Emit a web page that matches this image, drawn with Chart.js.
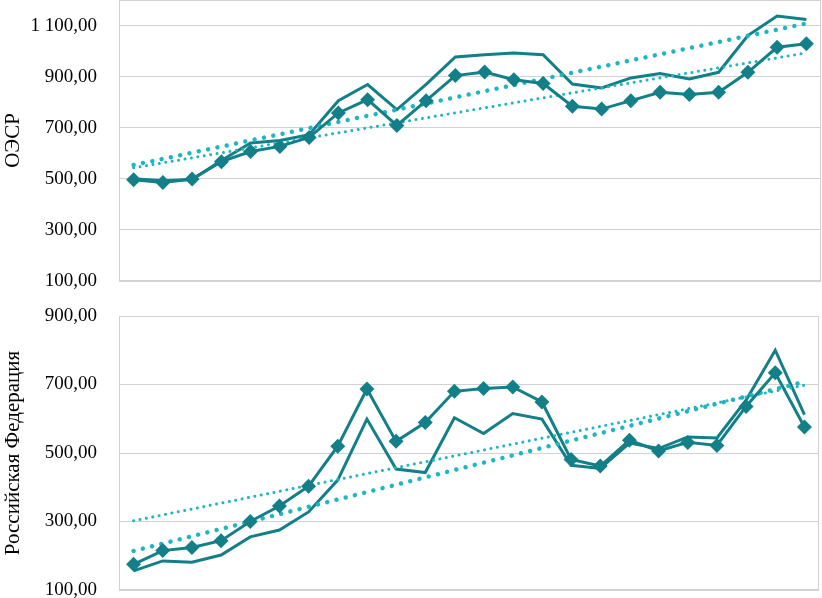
<!DOCTYPE html>
<html>
<head>
<meta charset="utf-8">
<script src="https://cdn.jsdelivr.net/npm/chart.js@4"></script>
<style>
  html, body { margin: 0; padding: 0; background: #ffffff; }
  body { width: 822px; height: 598px; position: relative; overflow: hidden; }
  canvas { position: absolute; left: 0; }
  #topChart { top: 0; }
  #bottomChart { top: 300px; }
</style>
</head>
<body>
<canvas id="topChart" width="822" height="300"></canvas>
<canvas id="bottomChart" width="822" height="298"></canvas>
<script>
const periods = ['1', '2', '3', '4', '5', '6', '7', '8', '9', '10', '11', '12',
                 '13', '14', '15', '16', '17', '18', '19', '20', '21', '22', '23', '24'];

// ОЭСР
const oecdMarked = [496, 486, 499, 567, 607, 627, 662, 758, 810, 709, 806, 904,
                    918, 888, 873, 784, 773, 806, 839, 830, 839, 917, 1015, 1029];
const oecdLine = [500, 492, 497, 572, 640, 650, 673, 806, 869, 771, 870, 977,
                  986, 993, 986, 871, 856, 895, 912, 891, 917, 1061, 1137, 1124];
const oecdTrendThick = [554, 1108];   // first / last period
const oecdTrendThin = [543, 993];
const oecdTicks = [100, 300, 500, 700, 900, 1100];

// Российская Федерация
const rfMarked = [175, 215, 224, 244, 300, 345, 403, 520, 687, 534, 589, 680,
                  688, 693, 649, 481, 462, 537, 506, 531, 522, 636, 734, 576];
const rfLine = [156, 185, 181, 202, 255, 275, 328, 421, 599, 453, 443, 603,
                557, 615, 599, 464, 455, 529, 513, 547, 544, 654, 800, 612];
const rfTrendThick = [214, 708];
const rfTrendThin = [302, 698];
const rfTicks = [100, 300, 500, 700, 900];

const DARK = '#137f88';
const CYAN = '#1fb5c1';
const GRID = '#d2d2d2';

const fmt = (v) => {
    const parts = Number(v).toFixed(2).split('.');
    return parts[0].replace(/\B(?=(\d{3})+(?!\d))/g, ' ') + ',' + parts[1];
};

// trend line only has its two ends, the rest is left empty
const ends = (pair) => periods.map((p, i) => i === 0 ? pair[0] : (i === periods.length - 1 ? pair[1] : null));

const frame = {
    id: 'frame',
    beforeDatasetsDraw(chart) {
        const a = chart.chartArea;
        const ctx = chart.ctx;
        ctx.save();
        ctx.strokeStyle = GRID;
        ctx.lineWidth = 1;
        ctx.strokeRect(Math.round(a.left) + 0.5, Math.round(a.top) + 0.5,
                       Math.round(a.right - a.left) - 1, Math.round(a.bottom - a.top) - 1);
        ctx.restore();
    }
};

const makeChart = (id, cfg) => {
    new Chart(document.getElementById(id).getContext('2d'), {
        type: 'line',
        data: {
            labels: periods,
            datasets: [
                {
                    data: cfg.marked,
                    borderColor: DARK,
                    backgroundColor: DARK,
                    borderWidth: 3,
                    pointStyle: 'rectRot',
                    pointRadius: 7.5,
                    pointBorderWidth: 0,
                    tension: 0,
                },
                {
                    data: ends(cfg.trendThick),
                    borderColor: CYAN,
                    borderWidth: 4.5,
                    borderDash: [0.01, 9.5],
                    borderCapStyle: 'round',
                    pointRadius: 0,
                    spanGaps: true,
                },
                {
                    data: ends(cfg.trendThin),
                    borderColor: CYAN,
                    borderWidth: 3,
                    borderDash: [0.01, 6.5],
                    borderCapStyle: 'round',
                    pointRadius: 0,
                    spanGaps: true,
                },
                {
                    data: cfg.line,
                    borderColor: DARK,
                    borderWidth: 3,
                    pointRadius: 0,
                    tension: 0,
                },
            ]
        },
        options: {
            responsive: false,
            animation: false,
            events: [],
            layout: {
                autoPadding: false,
                padding: cfg.padding,
            },
            scales: {
                x: {
                    offset: true,
                    ticks: { display: false },
                    grid: { display: false },
                    border: { display: false },
                    afterFit: (s) => { s.height = cfg.xHeight; },
                },
                y: {
                    min: cfg.min,
                    max: cfg.max,
                    afterBuildTicks: (s) => { s.ticks = cfg.ticks.map(v => ({ value: v })); },
                    afterFit: (s) => { s.width = 119; s.paddingTop = 0; s.paddingBottom = 0; },
                    ticks: {
                        padding: 22,
                        color: '#000000',
                        font: { family: '"Liberation Serif", "Times New Roman", serif', size: 19 },
                        callback: (v) => fmt(v),
                    },
                    grid: {
                        color: GRID,
                        lineWidth: 1,
                        drawTicks: false,
                    },
                    border: { display: false },
                    title: {
                        display: true,
                        text: cfg.title,
                        color: '#000000',
                        padding: { top: 1, bottom: 0 },
                        font: { family: '"Liberation Serif", "Times New Roman", serif', size: 21 },
                    },
                },
            },
            plugins: {
                legend: { display: false },
                tooltip: { enabled: false },
            }
        },
        plugins: [frame]
    });
};

Chart.defaults.color = '#000000';

makeChart('topChart', {
    title: 'ОЭСР',
    marked: oecdMarked,
    line: oecdLine,
    trendThick: oecdTrendThick,
    trendThin: oecdTrendThin,
    ticks: oecdTicks,
    min: 100,
    max: 1200,
    xHeight: 19,
    padding: { top: 0, right: 1, left: 0, bottom: 0 },
});

makeChart('bottomChart', {
    title: 'Российская Федерация',
    marked: rfMarked,
    line: rfLine,
    trendThick: rfTrendThick,
    trendThin: rfTrendThin,
    ticks: rfTicks,
    min: 100,
    max: 900,
    xHeight: 8,
    padding: { top: 16, right: 3, left: 0, bottom: 0 },
});
</script>
</body>
</html>
